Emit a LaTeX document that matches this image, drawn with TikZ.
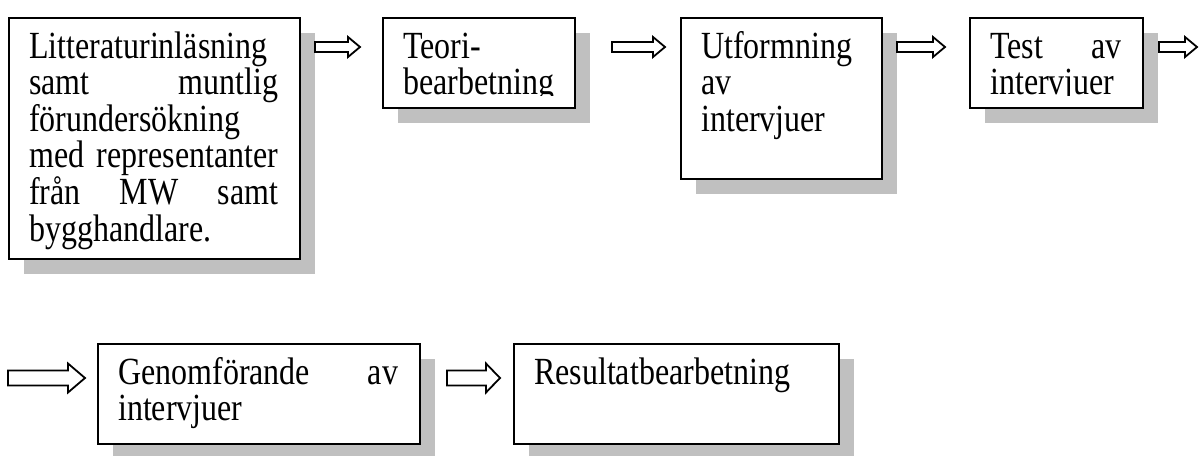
\documentclass[tikz,border=0pt]{standalone}
\usepackage{fontspec}
\setmainfont{Liberation Serif}
\usetikzlibrary{calc}
\definecolor{shadowgray}{RGB}{192,192,192}
\tikzset{
  boxnode/.style={draw, line width=1.8pt, fill=white, inner sep=0pt},
  boxtext/.style={inner sep=0pt, align=left, yscale=1.2, transform shape,
    font=\fontsize{32}{30.5}\selectfont},
  arrowline/.style={draw, fill=white, line width=1.8pt, line join=miter}
}
% box with drop shadow: [clip inset], name, left, top, width, height, text
\newcommand\flowbox[7][13]{%
  \fill[shadowgray] (#3+16,#4+16) rectangle ++(#5,#6); % shadow
  \node[boxnode, minimum width=#5pt, minimum height=#6pt, anchor=north west] (#2) at (#3,#4) {};
  \pgfmathsetmacro\boxtw{#5-42}
  \begin{scope}
    \clip (#2.north west) rectangle ([yshift=#1pt]#2.south east);
    \node[boxtext, text width=\boxtw pt, anchor=base west] (#2t) at ([shift={(21pt,-41pt)}]#2.north west) {#7};
  \end{scope}}
% block arrow: start, end, half shaft, half head, head length
\newcommand\blkarrow[5]{%
  \draw[arrowline] ($(#1)+(0,-#3)$) -- ($(#2)+(-#5,-#3)$) -- ($(#2)+(-#5,-#4)$) -- (#2)
    -- ($(#2)+(-#5,#4)$) -- ($(#2)+(-#5,#3)$) -- ($(#1)+(0,#3)$) -- cycle;}
\begin{document}
\begin{tikzpicture}[x=1pt,y=-1pt]
  \useasboundingbox (0,0) rectangle (1199,455);
  % first row
  \flowbox[3]{lit}{8}{17}{291}{241}{Litteraturinläsning\\ samt\hfill muntlig\\ förundersökning\\ med\hfill representanter\\ från\hfill MW\hfill samt\\ bygghandlare.}
  \flowbox{teori}{382}{17}{192}{90}{Teori-\\ bearbetning}
  \flowbox{utf}{680}{17}{201}{161}{Utformning\\ av\\ intervjuer}
  \flowbox{test}{969}{17}{173}{90}{Test\hfill av\\ intervjuer}
  % second row
  \flowbox{gen}{97}{343}{322}{100}{Genomförande\hfill av\\ intervjuer}
  \flowbox{res}{513}{343}{325}{100}{Resultatbearbetning}
  % arrows
  \foreach \n/\xa/\xb/\y/\hs/\hh/\hl in {1/315/360/47/5/10/12, 2/612/665/47/5/10/12,
      3/897/945/47/5/10/12, 4/1159/1197/47/5/10/12, 5/8/85/378/7.5/14.5/17, 6/447/500/378/7.5/14.5/14}{
    \coordinate (a\n s) at (\xa,\y);
    \coordinate (a\n e) at (\xb,\y);
    \blkarrow{a\n s}{a\n e}{\hs}{\hh}{\hl}
  }
\end{tikzpicture}
\end{document}
